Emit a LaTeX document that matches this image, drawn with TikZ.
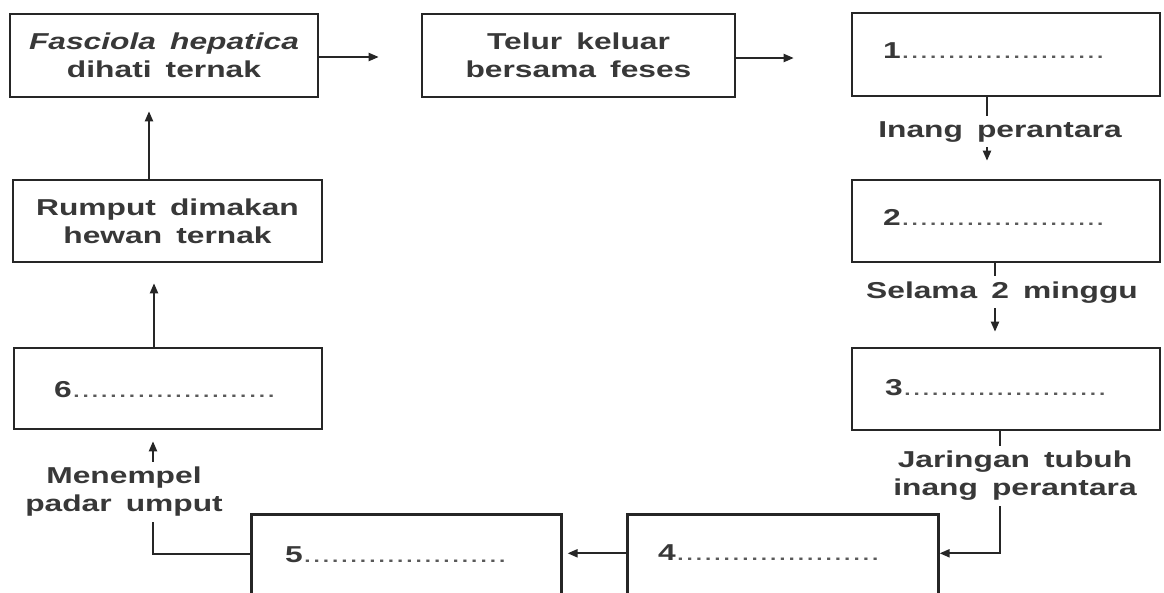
\documentclass[tikz,border=0pt]{standalone}
\usepackage{fontspec}
\setmainfont{Liberation Sans}[FakeStretch=1.38,WordSpace=1.6,UprightFont=* Bold,ItalicFont=* Bold Italic]
\newfontfamily\dotfont{Liberation Sans}[FakeStretch=1.45]
\usetikzlibrary{arrows.meta}
\newcommand{\blank}[1]{#1{\dotfont\color{black!65}......................}}
\begin{document}
\begin{tikzpicture}[x=1pt,y=-1pt,
  box/.style={draw=black!85, line width=2.6pt, minimum width=308pt,
    minimum height=83pt, inner sep=0pt, font=\fontsize{23}{28}\selectfont,
    text=black!78, align=center},
  txt/.style={font=\fontsize{23}{28}\selectfont, text=black!78, inner sep=0pt},
  lbl/.style={txt, align=center, fill=white, inner xsep=2pt, inner ysep=5pt},
  conn/.style={draw=black!85, line width=2pt},
  arr/.style={conn, -{Triangle[length=10pt,width=8pt]}},
]
\path[use as bounding box, clip] (0,0) rectangle (1164,592);
\fill[white] (0,0) rectangle (1164,592);

% stages of the cycle
\node[box] (A) at (164,55.5) {\textit{Fasciola hepatica}\\dihati ternak};
\node[box, minimum width=313pt] (B) at (578.5,55.5) {Telur keluar\\bersama feses};
\node[box] (C) at (1006,54.5) {};
\node[box, minimum height=82pt] (D) at (1006,221) {};
\node[box, minimum height=82pt] (E) at (1006,389) {};
\node[box, anchor=north west, minimum width=311pt, minimum height=100pt] (F) at (626,513) {};
\node[box, anchor=north west, minimum width=310pt, minimum height=100pt] (G) at (250,513) {};
\node[box, minimum height=81pt] (H) at (168,388.5) {};
\node[box, minimum width=309pt, minimum height=82pt] (R) at (167.5,221) {Rumput dimakan\\hewan ternak};

% blanks to fill in
\node[txt, anchor=base west] (t1) at (883,58) {\blank{1}};
\node[txt, anchor=base west] (t2) at (883,225) {\blank{2}};
\node[txt, anchor=base west] (t3) at (885,395) {\blank{3}};
\node[txt, anchor=base west] (t4) at (658,560) {\blank{4}};
\node[txt, anchor=base west] (t5) at (285,562) {\blank{5}};
\node[txt, anchor=base west] (t6) at (54,397) {\blank{6}};

% helper points on the box edges
\coordinate (a1) at ([yshift=-1.5pt]A.east);
\coordinate (b1) at ([yshift=-2.5pt]B.east);
\coordinate (c1) at ([xshift=-19pt]C.south);
\coordinate (d1) at ([xshift=-11pt]D.south);
\coordinate (e1) at ([xshift=-6pt]E.south);
\coordinate (f1) at ([yshift=11pt]F.west);
\coordinate (g1) at ([yshift=10pt]G.west);
\coordinate (h1) at ([xshift=-14pt]H.north);
\coordinate (r1) at ([xshift=-18.5pt]R.north);

% connectors
\draw[arr, shorten >=42pt] (a1) -- (a1 -| B.west);
\draw[arr, shorten >=57pt] (b1) -- (b1 -| C.west);
\draw[arr, shorten >=18pt] (c1) -- (c1 |- D.north);
\draw[arr, shorten >=15pt] (d1) -- (d1 |- E.north);
\draw[arr] (e1) |- ([yshift=11pt]F.east);
\draw[arr, shorten >=5pt] (f1) -- (f1 -| G.east);
\draw[arr, shorten >=11pt] (g1) -| ([xshift=-15pt]H.south);
\draw[arr, shorten >=20pt] (h1) -- (h1 |- R.south);
\draw[arr, shorten >=13pt] (r1) -- (r1 |- A.south);

% connector labels
\node[lbl, anchor=base] (l1) at (1000,137) {Inang perantara};
\node[lbl, anchor=base] (l2) at (1002,298) {Selama 2 minggu};
\node[lbl] (l3) at (1015,476) {Jaringan tubuh\\inang perantara};
\node[lbl] (l4) at (124,492) {Menempel\\padar umput};
\end{tikzpicture}
\end{document}
